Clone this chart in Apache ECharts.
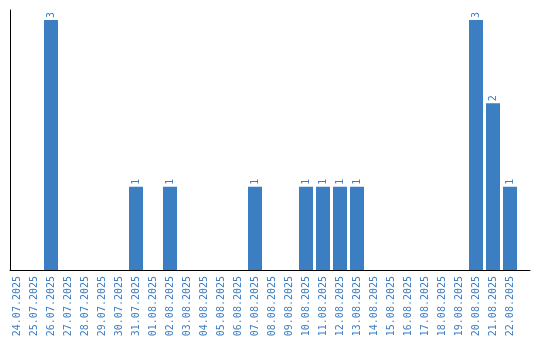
<!DOCTYPE html>
<html>
<head>
<meta charset="utf-8">
<script src="https://cdn.jsdelivr.net/npm/echarts@6/dist/echarts.min.js"></script>
<style>html,body{margin:0;padding:0;background:#fff}#c{width:540px;height:340px}</style>
</head>
<body>
<div id="c"></div>
<script>
const categories = ["24.07.2025","25.07.2025","26.07.2025","27.07.2025","28.07.2025","29.07.2025","30.07.2025","31.07.2025","01.08.2025","02.08.2025","03.08.2025","04.08.2025","05.08.2025","06.08.2025","07.08.2025","08.08.2025","09.08.2025","10.08.2025","11.08.2025","12.08.2025","13.08.2025","14.08.2025","15.08.2025","16.08.2025","17.08.2025","18.08.2025","19.08.2025","20.08.2025","21.08.2025","22.08.2025"];
const counts = [0,0,3,0,0,0,0,1,0,1,0,0,0,0,1,0,0,1,1,1,1,0,0,0,0,0,0,3,2,1];

const blue = '#3b7ec2';
const chart = echarts.init(document.getElementById('c'));
chart.setOption({
  animation: false,
  grid: { left: 10, right: 10, top: 10, bottom: 70, containLabel: false },
  xAxis: {
    type: 'value',
    min: -7/17,
    max: -7/17 + 520/17,
    axisLine: { show: true, onZero: false, lineStyle: { color: '#000', width: 1 } },
    axisTick: { show: false },
    splitLine: { show: false },
    axisLabel: {
      customValues: categories.map((c, i) => i),
      formatter: v => categories[Math.round(v)] || '',
      rotate: 90,
      margin: 6,
      color: blue,
      fontFamily: 'DejaVu Sans Mono',
      fontSize: 10
    }
  },
  yAxis: {
    type: 'value',
    min: 0,
    max: 3.12,
    axisLine: { show: true, onZero: false, lineStyle: { color: '#000', width: 1 } },
    axisTick: { show: false },
    axisLabel: { show: false },
    splitLine: { show: false }
  },
  series: [{
    type: 'bar',
    barWidth: 14,
    data: counts.map((v, i) => [i, v]),
    itemStyle: { color: blue },
    label: {
      show: true,
      position: 'top',
      rotate: 90,
      align: 'left',
      verticalAlign: 'middle',
      distance: 2,
      color: blue,
      fontFamily: 'DejaVu Sans Mono',
      fontSize: 10,
      formatter: p => p.value[1] ? String(p.value[1]) : ''
    }
  }]
});
</script>
</body>
</html>
